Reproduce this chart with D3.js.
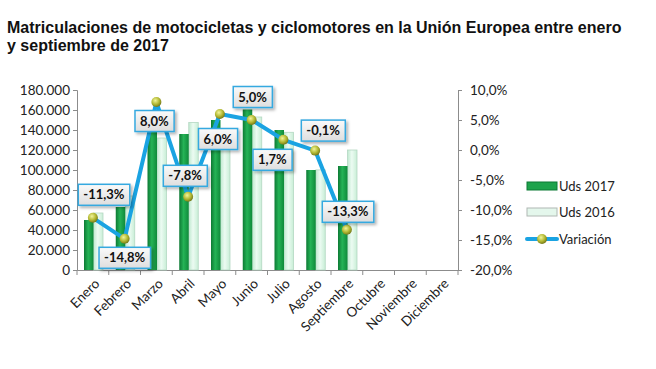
<!DOCTYPE html>
<html>
<head>
<meta charset="utf-8">
<script src="https://cdn.jsdelivr.net/npm/d3@7"></script>
<style>
  body { margin: 0; background: #fff; }
  svg { display: block; }
</style>
</head>
<body>
<div id="chart"></div>
<script>
// Chart data
const months = ['Enero', 'Febrero', 'Marzo', 'Abril', 'Mayo', 'Junio', 'Julio',
    'Agosto', 'Septiembre', 'Octubre', 'Noviembre', 'Diciembre'];
const uds2017 = [50000, 63000, 143000, 136000, 150000, 160500, 140000, 100000, 104000];
const uds2016 = [57000, 74000, 132000, 147500, 141500, 153000, 137700, 100100, 120000];
const variacion = [-11.3, -14.8, 8.0, -7.8, 6.0, 5.0, 1.7, -0.1, -13.3];
const leftTicks = [0, 20000, 40000, 60000, 80000, 100000, 120000, 140000, 160000, 180000];
const rightTicks = [-20, -15, -10, -5, 0, 5, 10];
const legendItems = ['Uds 2017', 'Uds 2016', 'Variación'];

// Label offsets relative to each point (layout only)
const labelOffsets = [[11, -23], [0, 19], [-2, 19], [-3, -21], [-2, 25], [1, -23], [-11, 20], [8, -20], [1, -18]];

const W = 656, H = 369;
const plot = { left: 77, right: 458, top: 90, bottom: 270 };
const font = 'Lato, "Open Sans", sans-serif';

const svg = d3.select('#chart').append('svg')
    .attr('width', W)
    .attr('height', H);

const defs = svg.append('defs');

// Bar gradients
const gDark = defs.append('linearGradient').attr('id', 'gDark');
gDark.append('stop').attr('offset', '0%').attr('stop-color', '#0d7a34');
gDark.append('stop').attr('offset', '45%').attr('stop-color', '#25b356');
gDark.append('stop').attr('offset', '100%').attr('stop-color', '#0f8a3a');

const gLight = defs.append('linearGradient').attr('id', 'gLight');
gLight.append('stop').attr('offset', '0%').attr('stop-color', '#bfe9cf');
gLight.append('stop').attr('offset', '45%').attr('stop-color', '#ecfbf2');
gLight.append('stop').attr('offset', '100%').attr('stop-color', '#c8eed6');

const gBox = defs.append('linearGradient').attr('id', 'gBox')
    .attr('x1', 0).attr('y1', 0).attr('x2', 0).attr('y2', 1);
gBox.append('stop').attr('offset', '0%').attr('stop-color', '#fafafa');
gBox.append('stop').attr('offset', '100%').attr('stop-color', '#dedede');

const gDot = defs.append('radialGradient').attr('id', 'gDot')
    .attr('cx', '40%').attr('cy', '35%').attr('r', '65%');
gDot.append('stop').attr('offset', '0%').attr('stop-color', '#f2f59a');
gDot.append('stop').attr('offset', '60%').attr('stop-color', '#b2b832');
gDot.append('stop').attr('offset', '100%').attr('stop-color', '#76791a');

const shadow = defs.append('filter').attr('id', 'shadow')
    .attr('x', '-20%').attr('y', '-20%').attr('width', '150%').attr('height', '160%');
shadow.append('feDropShadow').attr('dx', 2).attr('dy', 2).attr('stdDeviation', 1.5)
    .attr('flood-color', '#000').attr('flood-opacity', 0.3);

// Title
svg.append('text')
    .attr('x', 7)
    .attr('y', 0)
    .style('font', 'bold 16px "Liberation Sans", Arial, sans-serif')
    .attr('fill', '#111')
    .selectAll('tspan')
    .data(['Matriculaciones de motocicletas y ciclomotores en la Unión Europea entre enero',
        'y septiembre de 2017'])
    .join('tspan')
    .attr('x', 7)
    .attr('y', (d, i) => 33 + i * 18)
    .text(d => d);

// Scales
const x = d3.scaleBand().domain(months).range([plot.left, plot.right]);
const xSub = d3.scaleBand().domain(['2017', '2016'])
    .range([7, 26]).paddingInner(0);
const yLeft = d3.scaleLinear().domain([0, 180000]).range([plot.bottom, plot.top]);
const yRight = d3.scaleLinear().domain([-20, 10]).range([plot.bottom, plot.top]);

const fmtThousands = d3.formatLocale({ decimal: ',', thousands: '.', grouping: [3], currency: ['', '€'], minus: '-' });
const fmtLeft = fmtThousands.format(',.0f');
const fmtPct = d => fmtThousands.format('.1f')(d) + '%';

// Axes
const axisColor = '#8c8c8c';
const leftAxis = svg.append('g')
    .attr('transform', `translate(${plot.left},0)`)
    .call(d3.axisLeft(yLeft).tickValues(leftTicks).tickFormat(fmtLeft).tickSizeOuter(0).tickSize(4).tickPadding(3));

const rightAxis = svg.append('g')
    .attr('transform', `translate(${plot.right},0)`)
    .call(d3.axisRight(yRight).tickValues(rightTicks).tickFormat(fmtPct).tickSizeOuter(0).tickSize(4).tickPadding(8));

const xAxis = svg.append('g')
    .attr('transform', `translate(0,${plot.bottom})`)
    .call(d3.axisBottom(x).tickSize(0).tickFormat(d => d));

// x axis ticks on category boundaries
xAxis.selectAll('line.bound')
    .data(d3.range(months.length + 1))
    .join('line')
    .attr('class', 'bound')
    .attr('x1', i => plot.left + i * x.step())
    .attr('x2', i => plot.left + i * x.step())
    .attr('y1', 0)
    .attr('y2', 5)
    .attr('stroke', axisColor);

[leftAxis, rightAxis, xAxis].forEach(a => {
    a.select('.domain').attr('stroke', axisColor);
    a.selectAll('.tick line').attr('stroke', axisColor);
    a.selectAll('text').style('font', '13.5px ' + font).attr('fill', '#222');
});

xAxis.selectAll('.tick text')
    .attr('text-anchor', 'end')
    .attr('dy', '0.35em')
    .attr('transform', 'translate(2,9) rotate(-45)');

// Bars
const barGroup = svg.append('g');
barGroup.selectAll('rect.b16')
    .data(uds2016)
    .join('rect')
    .attr('class', 'b16')
    .attr('x', (d, i) => x(months[i]) + xSub('2016'))
    .attr('y', d => yLeft(d))
    .attr('width', xSub.bandwidth())
    .attr('height', d => yLeft(0) - yLeft(d))
    .attr('fill', 'url(#gLight)')
    .attr('stroke', '#b4d8c2')
    .attr('stroke-width', 0.8);

barGroup.selectAll('rect.b17')
    .data(uds2017)
    .join('rect')
    .attr('class', 'b17')
    .attr('x', (d, i) => x(months[i]) + xSub('2017'))
    .attr('y', d => yLeft(d))
    .attr('width', xSub.bandwidth())
    .attr('height', d => yLeft(0) - yLeft(d))
    .attr('fill', 'url(#gDark)');

// Variation line
const cx = i => x(months[i]) + x.bandwidth() / 2;
const line = d3.line()
    .x((d, i) => cx(i))
    .y(d => yRight(d));

svg.append('path')
    .datum(variacion)
    .attr('d', line)
    .attr('fill', 'none')
    .attr('stroke', '#1aa3e2')
    .attr('stroke-width', 4)
    .attr('stroke-linejoin', 'round');

svg.append('g').selectAll('circle')
    .data(variacion)
    .join('circle')
    .attr('cx', (d, i) => cx(i))
    .attr('cy', d => yRight(d))
    .attr('r', 5)
    .attr('fill', 'url(#gDot)');

// Data labels
const labels = svg.append('g').selectAll('g')
    .data(variacion)
    .join('g')
    .attr('transform', (d, i) => `translate(${cx(i) + labelOffsets[i][0]},${yRight(d) + labelOffsets[i][1]})`);

labels.append('text')
    .attr('text-anchor', 'middle')
    .attr('dy', '0.36em')
    .style('font', 'bold 13px ' + font)
    .attr('fill', '#111')
    .text(d => fmtPct(d));

labels.each(function() {
    const g = d3.select(this);
    const bb = g.select('text').node().getBBox();
    g.insert('rect', 'text')
        .attr('x', bb.x - 5)
        .attr('y', -10.5)
        .attr('width', bb.width + 10)
        .attr('height', 21)
        .attr('fill', 'url(#gBox)')
        .attr('stroke', '#36a9e0')
        .attr('stroke-width', 1.5)
        .attr('filter', 'url(#shadow)');
});

// Legend
const legend = svg.append('g').attr('transform', 'translate(527,0)');
const legendY = [186, 212, 239];

legend.selectAll('text')
    .data(legendItems)
    .join('text')
    .attr('x', 32)
    .attr('y', (d, i) => legendY[i])
    .attr('dy', '0.36em')
    .style('font', '13px ' + font)
    .attr('fill', '#222')
    .text(d => d);

legend.append('rect')
    .attr('x', 0).attr('y', legendY[0] - 4)
    .attr('width', 30).attr('height', 8)
    .attr('fill', '#1ea34c')
    .attr('stroke', '#0d7a34');

legend.append('rect')
    .attr('x', 0).attr('y', legendY[1] - 4)
    .attr('width', 30).attr('height', 8)
    .attr('fill', '#e4f7ec')
    .attr('stroke', '#b0b8b3');

legend.append('line')
    .attr('x1', 0).attr('x2', 30)
    .attr('y1', legendY[2]).attr('y2', legendY[2])
    .attr('stroke', '#1aa3e2')
    .attr('stroke-width', 4)
    .attr('stroke-linecap', 'round');

legend.append('circle')
    .attr('cx', 15).attr('cy', legendY[2])
    .attr('r', 5)
    .attr('fill', 'url(#gDot)');
</script>
</body>
</html>
